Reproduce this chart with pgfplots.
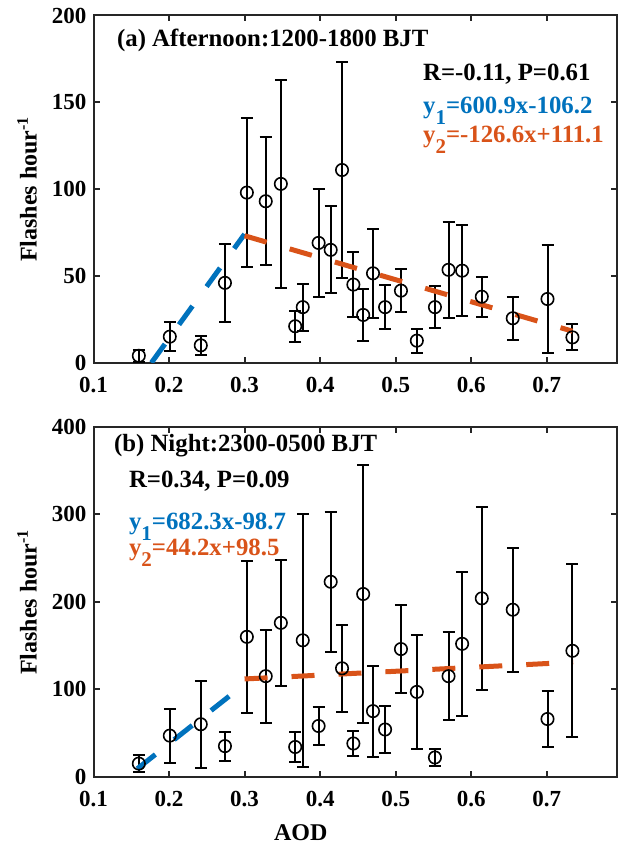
\documentclass[border=0pt]{standalone}
\usepackage{fontspec}
\setmainfont{Liberation Serif}
\usepackage{pgfplots}
\usepackage{pgfplotstable}
\pgfplotsset{compat=1.18}

\definecolor{mblue}{rgb}{0,0.447,0.741}
\definecolor{morange}{rgb}{0.85,0.325,0.098}
\definecolor{axgray}{rgb}{0.15,0.15,0.15}

% AOD, flashes per hour, error half-length
\pgfplotstableread{
x y e
0.160 4 3.5
0.201 15 8.5
0.242 10 5.3
0.274 46 22.5
0.303 98 43
0.328 93 37
0.348 103 60
0.367 21 9
0.377 32 13.5
0.398 69 31
0.414 65 25
0.429 111 62
0.444 45 18.5
0.457 27.5 15
0.470 51.5 25.5
0.486 32 12.7
0.507 41.5 12.4
0.528 12.7 7
0.552 32 12
0.570 53.5 27.5
0.588 53 26.3
0.614 38 11.5
0.655 25.6 12.5
0.701 36.7 31
0.734 14.6 7.5
}\aftn

\pgfplotstableread{
x y e
0.160 15 10
0.201 47 31
0.242 60 50
0.274 35 16.5
0.303 160 87
0.328 115 53
0.348 176 72
0.367 34 17
0.377 156 145
0.398 58 22
0.414 223 80
0.429 124 50
0.444 38 14
0.457 209 148
0.470 75 52
0.486 54 27
0.507 146 50
0.528 97 65
0.552 22 10
0.570 115 50
0.588 152 82
0.614 204 105
0.655 191 71
0.701 66 32
0.734 144 99
}\night

\pgfplotsset{
  panel/.style={
    scale only axis, width=261.75pt,
    xmin=0.1, xmax=0.793,
    xtick={0.1,0.2,0.3,0.4,0.5,0.6,0.7},
    axis line style={axgray, line width=1pt},
    tick style={axgray, line width=1pt},
    major tick length=3pt,
    ticklabel style={font=\fontsize{11.5}{12}\selectfont\bfseries},
    /pgf/number format/assume math mode=true,
    xticklabel style={yshift=-3.5pt},
    label style={font=\fontsize{12}{14}\selectfont\bfseries},
    ylabel={Flashes hour\textsuperscript{-1}},
    ylabel style={at={(axis description cs:-0.127,0.5)}, anchor=center},
  },
  pts/.style={black, only marks, mark=o, mark size=3.1pt,
    mark options={line width=0.8pt},
    error bars/.cd, y dir=both, y explicit,
    error bar style={line width=1pt, black},
    error mark options={rotate=90, mark size=3pt, line width=1pt, black}},
}
\tikzset{
  fit/.style={line width=2.5pt, dash pattern=on 11.5pt off 12pt},
  note/.style={anchor=base west, font=\fontsize{12.4}{14}\selectfont\bfseries},
}

\newcommand{\sub}[1]{\raisebox{-5.5pt}{\fontsize{10.5}{11}\selectfont #1}}

\begin{document}
\begin{tikzpicture}
\path[use as bounding box] (0,0) rectangle (310pt,-425pt);

\begin{axis}[panel, height=173.6pt,
  at={(46.75pt,-181.35pt)}, anchor=south west,
  ymin=0, ymax=200, ytick={0,50,100,150,200}]
\addplot+[pts] table[x=x, y=y, y error=e] {\aftn};
\addplot[fit, mblue] coordinates {(0.1767,0) (0.300,74.07)};
\addplot[fit, morange] coordinates {(0.300,73.12) (0.734,18.17)};
\node[note] at (axis cs:0.1219,182.3) {(a) Afternoon:1200-1800 BJT};
\node[note] at (axis cs:0.527,162.5) {R=-0.11, P=0.61};
\node[note, text=mblue] at (axis cs:0.527,143.3) {y\sub{1}=600.9x-106.2};
\node[note, text=morange] at (axis cs:0.527,126.6) {y\sub{2}=-126.6x+111.1};
\end{axis}

\begin{axis}[panel, height=174.85pt,
  at={(46.75pt,-388.35pt)}, anchor=south west,
  ymin=0, ymax=400, ytick={0,100,200,300,400},
  xlabel={AOD},
  xlabel style={at={(axis description cs:0.396,-0.16)}, anchor=center}]
\addplot+[pts] table[x=x, y=y, y error=e] {\night};
\addplot[fit, mblue] coordinates {(0.158,9.1) (0.300,106.0)};
\addplot[fit, morange] coordinates {(0.300,111.8) (0.735,131.0)};
\node[note] at (axis cs:0.1179,371.9) {(b) Night:2300-0500 BJT};
\node[note] at (axis cs:0.1377,330.7) {R=0.34, P=0.09};
\node[note, text=mblue] at (axis cs:0.1377,283) {y\sub{1}=682.3x-98.7};
\node[note, text=morange] at (axis cs:0.1377,252.5) {y\sub{2}=44.2x+98.5};
\end{axis}
\end{tikzpicture}
\end{document}
